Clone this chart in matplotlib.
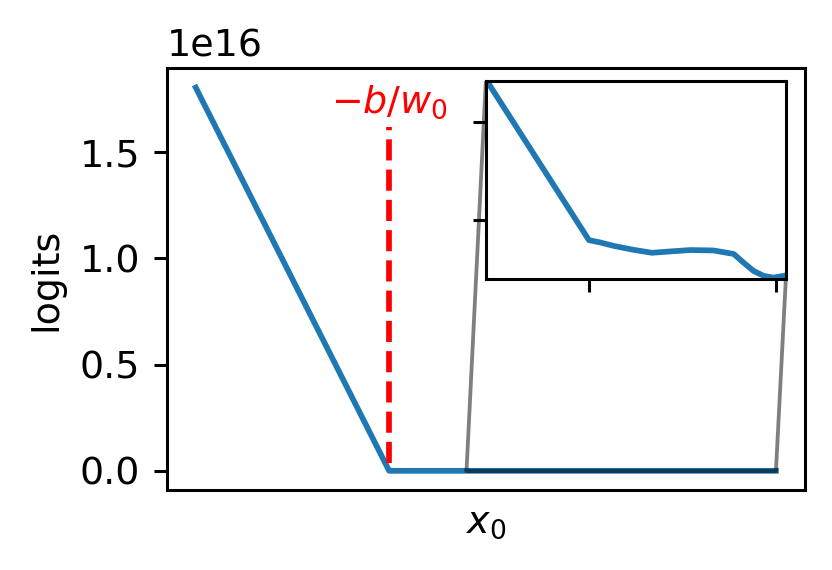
import numpy as np
import matplotlib
matplotlib.use("Agg")
from matplotlib import pyplot as plt

# logits along x0 (x in arbitrary units, kink at -b/w0 = 0)
x0 = [-1.0, 0.0, 0.950, 1.011, 1.083, 1.189, 1.286, 1.384, 1.491, 1.614,
      1.722, 1.774, 1.827, 1.882, 1.934, 1.990, 2.0]
logits = [1.805e16, 2.63, -0.202, -0.226, -0.261, -0.301, -0.331, -0.317, -0.303, -0.307,
          -0.343, -0.430, -0.515, -0.566, -0.584, -0.566, -0.560]
boundary = 0.0  # -b/w0

# zoomed region
zoom_x = (0.4, 2.0)
zoom_y = (-0.6, 1.42)
zoom_xticks = [0.95, 1.95]
zoom_yticks = [0, 1]

dpi = 274
fig = plt.figure(figsize=(832 / dpi, 570 / dpi), dpi=dpi)
ax = fig.add_subplot(111)
fig.subplots_adjust(left=0.2004, right=0.9675, bottom=0.1404, top=0.880)

ax.plot(x0, logits)
ax.vlines(boundary, 0.035e16, 1.62e16, colors='r', linestyles='--', linewidth=1.5)
ax.text(boundary, 1.647e16, r'$-b/w_0$', color='r', ha='center', va='bottom')
ax.set_xticks([])
ax.set_xlabel(r'$x_0$')
ax.set_ylabel('logits')

axins = ax.inset_axes([0.5, 0.5, 0.47, 0.47])
axins.plot(x0, logits)
axins.set_xlim(*zoom_x)
axins.set_ylim(*zoom_y)
axins.set_xticks(zoom_xticks)
axins.set_yticks(zoom_yticks)
axins.set_xticklabels([])
axins.set_yticklabels([])
ind = ax.indicate_inset_zoom(axins, edgecolor='black', alpha=0.5)
# left edge of the box goes to the inset's upper-left corner, right edge to its lower-right
cons = ind.connectors
for c, vis in zip(cons, [False, True, True, False]):
    c.set_visible(vis)

fig.savefig('out.png', dpi=dpi)
